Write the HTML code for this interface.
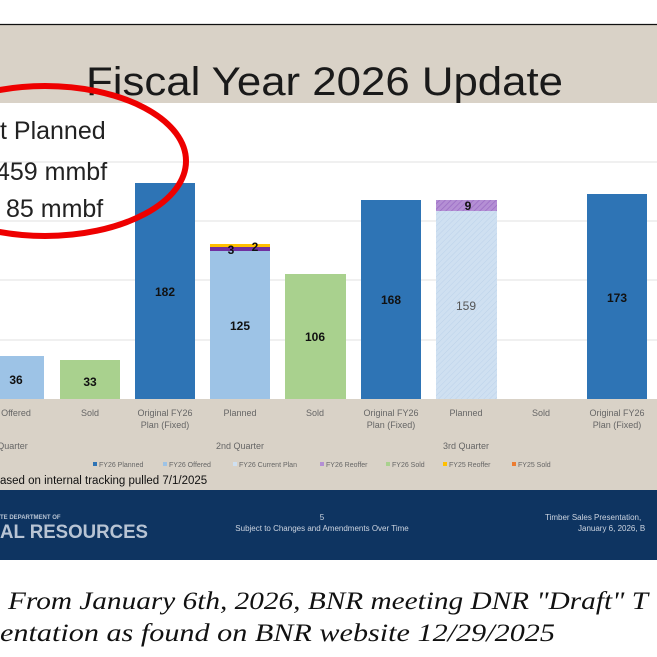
<!DOCTYPE html>
<html><head><style>
html,body{margin:0;padding:0;background:#fff;width:657px;height:657px;overflow:hidden}
</style></head><body>
<svg width="657" height="657" viewBox="0 0 657 657" xmlns="http://www.w3.org/2000/svg" font-family="Liberation Sans, sans-serif">
<defs>
<pattern id="hatch" width="4" height="4" patternUnits="userSpaceOnUse" patternTransform="rotate(45)">
<rect width="4" height="4" fill="#cfe0f1"/><line x1="0" y1="0" x2="0" y2="4" stroke="#bcd2ea" stroke-width="1"/>
</pattern>
<pattern id="hatchp" width="4" height="4" patternUnits="userSpaceOnUse" patternTransform="rotate(45)">
<rect width="4" height="4" fill="#b48fd4"/><line x1="0" y1="0" x2="0" y2="4" stroke="#9a6cc4" stroke-width="1.5"/>
</pattern>
</defs>
<rect x="0" y="0" width="657" height="657" fill="#fff"/>
<rect x="0" y="25" width="657" height="465" fill="#d9d2c7"/>
<line x1="0" y1="24.5" x2="657" y2="24.5" stroke="#111" stroke-width="1.2"/>
<text x="86" y="95" font-size="40" fill="#1a1a1a" textLength="477" lengthAdjust="spacingAndGlyphs">Fiscal Year 2026 Update</text>
<rect x="0" y="103" width="657" height="296" fill="#fff"/>
<g stroke="#e8e8e8" stroke-width="1.2">
<line x1="0" y1="162" x2="657" y2="162"/><line x1="0" y1="221" x2="657" y2="221"/>
<line x1="0" y1="280" x2="657" y2="280"/><line x1="0" y1="340" x2="657" y2="340"/>
</g>
<rect x="0" y="356" width="44" height="43" fill="#9dc3e6"/>
<rect x="60" y="360" width="60" height="39" fill="#a9d18e"/>
<rect x="135" y="183" width="60" height="216" fill="#2e74b5"/>
<rect x="210" y="251" width="60" height="148" fill="#9dc3e6"/>
<rect x="210" y="247" width="60" height="4" fill="#7030a0"/>
<rect x="210" y="244" width="60" height="3" fill="#ffc000"/>
<rect x="285" y="274" width="61" height="125" fill="#a9d18e"/>
<rect x="361" y="200" width="60" height="199" fill="#2e74b5"/>
<rect x="436" y="211" width="61" height="188" fill="url(#hatch)"/>
<rect x="436" y="200" width="61" height="11" fill="url(#hatchp)"/>
<rect x="587" y="194" width="60" height="205" fill="#2e74b5"/>
<g font-size="12" font-weight="bold" fill="#111" text-anchor="middle">
<text x="16" y="384">36</text>
<text x="90" y="386">33</text>
<text x="165" y="296">182</text>
<text x="240" y="330">125</text>
<text x="315" y="341">106</text>
<text x="391" y="304">168</text>
<text x="466" y="310" fill="#555" font-weight="normal">159</text>
<text x="617" y="302">173</text>
<text x="231" y="254">3</text>
<text x="255" y="251">2</text>
<text x="468" y="210">9</text>
</g>
<g font-size="9" fill="#666" text-anchor="middle">
<text x="16" y="416">Offered</text>
<text x="90" y="416">Sold</text>
<text x="165" y="416">Original FY26</text><text x="165" y="428">Plan (Fixed)</text>
<text x="240" y="416">Planned</text>
<text x="315" y="416">Sold</text>
<text x="391" y="416">Original FY26</text><text x="391" y="428">Plan (Fixed)</text>
<text x="466" y="416">Planned</text>
<text x="541" y="416">Sold</text>
<text x="617" y="416">Original FY26</text><text x="617" y="428">Plan (Fixed)</text>
<text x="10" y="449">t Quarter</text>
<text x="240" y="449">2nd Quarter</text>
<text x="466" y="449">3rd Quarter</text>
</g>
<g font-size="7" fill="#666">
<rect x="93" y="462" width="4" height="4" fill="#2e74b5"/><text x="99" y="467">FY26 Planned</text>
<rect x="163" y="462" width="4" height="4" fill="#9dc3e6"/><text x="169" y="467">FY26 Offered</text>
<rect x="233" y="462" width="4" height="4" fill="#cfe0f1"/><text x="239" y="467">FY26 Current Plan</text>
<rect x="320" y="462" width="4" height="4" fill="#b48fd4"/><text x="326" y="467">FY26 Reoffer</text>
<rect x="386" y="462" width="4" height="4" fill="#a9d18e"/><text x="392" y="467">FY26 Sold</text>
<rect x="443" y="462" width="4" height="4" fill="#ffc000"/><text x="449" y="467">FY25 Reoffer</text>
<rect x="512" y="462" width="4" height="4" fill="#ed7d31"/><text x="518" y="467">FY25 Sold</text>
</g>
<text x="0" y="484" font-size="11.5" fill="#111">ased on internal tracking pulled 7/1/2025</text>
<rect x="0" y="490" width="657" height="70" fill="#0e3461"/>
<text x="0" y="519" font-size="6" fill="#b8c4d4" font-weight="bold">TE DEPARTMENT OF</text>
<text x="0" y="538" font-size="19" fill="#b8c4d4" font-weight="bold" textLength="148" lengthAdjust="spacingAndGlyphs">AL RESOURCES</text>
<text x="322" y="520" font-size="8" fill="#ccd4e0" text-anchor="middle">5</text>
<text x="322" y="531" font-size="8" fill="#ccd4e0" text-anchor="middle">Subject to Changes and Amendments Over Time</text>
<text x="545" y="520" font-size="8" fill="#ccd4e0">Timber Sales Presentation,</text>
<text x="578" y="531" font-size="8" fill="#ccd4e0">January 6, 2026, B</text>
<text x="0" y="139" font-size="25" fill="#222">t Planned</text>
<text x="-4" y="180" font-size="25" fill="#222">459 mmbf</text>
<text x="6" y="217" font-size="25" fill="#222">85 mmbf</text>
<ellipse cx="45" cy="161" rx="141" ry="75" fill="none" stroke="#e00" stroke-width="6"/>
<text x="8" y="609" font-family="Liberation Serif, serif" font-style="italic" font-size="25" fill="#111" textLength="640" lengthAdjust="spacingAndGlyphs">From January 6th, 2026, BNR meeting DNR "Draft" T</text>
<text x="0" y="641" font-family="Liberation Serif, serif" font-style="italic" font-size="25" fill="#111" textLength="555" lengthAdjust="spacingAndGlyphs">entation as found on BNR website 12/29/2025</text>
</svg>
</body></html>
